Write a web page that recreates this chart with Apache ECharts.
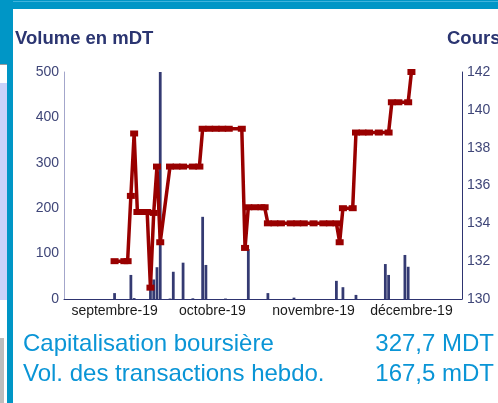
<!DOCTYPE html>
<html>
<head>
<meta charset="utf-8">
<script src="https://cdn.jsdelivr.net/npm/echarts@6/dist/echarts.min.js"></script>
<style>
  body { margin: 0; background: #fff; width: 498px; height: 403px; overflow: hidden; position: relative; }
  .deco { position: absolute; }
  #chart { position: absolute; left: 0; top: 0; width: 498px; height: 403px; }
</style>
</head>
<body>
<div class="deco" style="left:0;top:0;width:498px;height:9px;background:#0096c6"></div>
<div class="deco" style="left:0;top:1px;width:498px;height:1px;background:#3fb3dd"></div>
<div class="deco" style="left:0;top:0;width:13px;height:64px;background:#0096c6"></div>
<div class="deco" style="left:0;top:64px;width:7px;height:1px;background:#9a9a9a"></div>
<div class="deco" style="left:0;top:83px;width:7px;height:217px;background:#c9d2fa"></div>
<div class="deco" style="left:0;top:338px;width:4px;height:65px;background:#bdbdbd"></div>
<div class="deco" style="left:7px;top:0;width:6px;height:403px;background:#0096c6"></div>
<div id="chart"></div>
<script>
'use strict';

/* ---- données ---- */
var monthLabels = { '09': 'septembre-19', '10': 'octobre-19', '11': 'novembre-19', '12': 'décembre-19' };

// volume journalier (mDT)
var volDates = ['2019-09-16', '2019-09-21', '2019-09-22', '2019-09-27', '2019-09-28', '2019-09-29', '2019-09-30',
  '2019-10-03', '2019-10-04', '2019-10-07', '2019-10-10', '2019-10-13', '2019-10-14', '2019-10-20', '2019-10-27',
  '2019-11-02', '2019-11-10', '2019-11-23', '2019-11-25', '2019-11-29', '2019-12-08', '2019-12-09',
  '2019-12-14', '2019-12-15'];
var volValues = [13, 53, 2, 43, 43, 70, 500,
  1, 60, 80, 1.5, 181, 75, 1, 110,
  13, 3, 40, 26, 9, 77, 53,
  97, 71];

// cours (DT)
var coursDates = ['2019-09-16', '2019-09-19', '2019-09-20', '2019-09-21', '2019-09-22', '2019-09-23', '2019-09-25',
  '2019-09-26', '2019-09-27', '2019-09-28', '2019-09-29', '2019-09-30', '2019-10-03', '2019-10-05', '2019-10-07',
  '2019-10-10', '2019-10-12', '2019-10-13', '2019-10-15', '2019-10-17', '2019-10-19', '2019-10-21', '2019-10-25',
  '2019-10-26', '2019-10-27', '2019-10-29', '2019-10-31', '2019-11-01', '2019-11-02', '2019-11-04', '2019-11-06',
  '2019-11-09', '2019-11-11', '2019-11-13', '2019-11-16', '2019-11-19', '2019-11-21', '2019-11-23', '2019-11-24',
  '2019-11-25', '2019-11-28', '2019-11-29', '2019-12-01', '2019-12-03', '2019-12-06', '2019-12-09', '2019-12-10',
  '2019-12-12', '2019-12-15', '2019-12-16'];
var coursValues = [132.0, 132.0, 132.0, 135.45, 138.75, 134.6, 134.6,
  134.6, 130.6, 134.55, 137.0, 133.0, 137.0, 137.0, 137.0,
  137.0, 137.0, 139.0, 139.0, 139.0, 139.0, 139.0, 139.0,
  132.7, 134.85, 134.85, 134.85, 134.85, 134.0, 134.0, 134.0,
  134.0, 134.0, 134.0, 134.0, 134.0, 134.0, 134.0, 133.0,
  134.8, 134.8, 138.8, 138.8, 138.8, 138.8, 138.8, 140.4,
  140.4, 140.4, 142.0];

/* ---- axe des jours : 1 sept. -> 31 déc. 2019 ---- */
var days = [];
var d = new Date(Date.UTC(2019, 8, 1));
while (d.getUTCFullYear() === 2019) {
  days.push(d.toISOString().slice(0, 10));
  d.setUTCDate(d.getUTCDate() + 1);
}

function onDays(dates, values) {
  var out = days.map(function () { return null; });
  dates.forEach(function (dt, i) { out[days.indexOf(dt)] = values[i]; });
  return out;
}

var font = '"Liberation Sans", Arial, sans-serif';
var chart = echarts.init(document.getElementById('chart'));

chart.setOption({
  animation: false,
  backgroundColor: 'transparent',
  grid: { left: 64, right: 36, top: 72, bottom: 104, containLabel: false },
  xAxis: {
    type: 'category',
    data: days,
    boundaryGap: true,
    axisLine: { lineStyle: { color: '#2e3470', width: 1 } },
    axisTick: { show: false },
    splitLine: { show: false },
    axisLabel: {
      interval: function (idx, val) { return val.slice(8) === '16'; },
      formatter: function (val) { return monthLabels[val.slice(5, 7)]; },
      fontFamily: font,
      fontSize: 14,
      color: '#1a1a1a',
      margin: 5
    }
  },
  yAxis: [{
    type: 'value',
    min: 0, max: 500, interval: 100,
    axisLine: { show: true, lineStyle: { color: '#a3a6cb', width: 1 } },
    axisTick: { show: false },
    splitLine: { show: false },
    axisLabel: { fontFamily: font, fontSize: 14, color: '#3f4678', margin: 5 }
  }, {
    type: 'value',
    position: 'right',
    min: 130, max: 142, interval: 2,
    axisLine: { show: true, lineStyle: { color: '#2e3470', width: 1 } },
    axisTick: { show: false },
    splitLine: { show: false },
    axisLabel: { fontFamily: font, fontSize: 14, color: '#3f4678', margin: 5 }
  }],
  series: [{
    name: 'Volume',
    type: 'bar',
    yAxisIndex: 0,
    barWidth: '85%',
    itemStyle: { color: '#343a72' },
    data: onDays(volDates, volValues)
  }, {
    name: 'Cours',
    type: 'line',
    yAxisIndex: 1,
    connectNulls: true,
    showAllSymbol: true,
    symbol: 'rect',
    symbolSize: [8, 6],
    lineStyle: { color: '#990000', width: 3.5 },
    itemStyle: { color: '#990000' },
    z: 5,
    data: onDays(coursDates, coursValues)
  }],
  graphic: [
    { type: 'text', x: 15, y: 29.8, style: { text: 'Volume en mDT', font: 'bold 18.5px ' + font, fill: '#2b3571', verticalAlign: 'top' } },
    { type: 'text', x: 447, y: 29.8, style: { text: 'Cours', font: 'bold 18.5px ' + font, fill: '#2b3571', verticalAlign: 'top' } },
    { type: 'text', x: 23, y: 332.7, style: { text: 'Capitalisation boursière', font: '24px ' + font, fill: '#0a95d6', verticalAlign: 'top' } },
    { type: 'text', x: 494, y: 332.7, style: { text: '327,7 MDT', font: '24px ' + font, fill: '#0a95d6', align: 'right', verticalAlign: 'top' } },
    { type: 'text', x: 23, y: 362.7, style: { text: 'Vol. des transactions hebdo.', font: '24px ' + font, fill: '#0a95d6', verticalAlign: 'top' } },
    { type: 'text', x: 494, y: 362.7, style: { text: '167,5 mDT', font: '24px ' + font, fill: '#0a95d6', align: 'right', verticalAlign: 'top' } }
  ]
});
</script>
</body>
</html>
